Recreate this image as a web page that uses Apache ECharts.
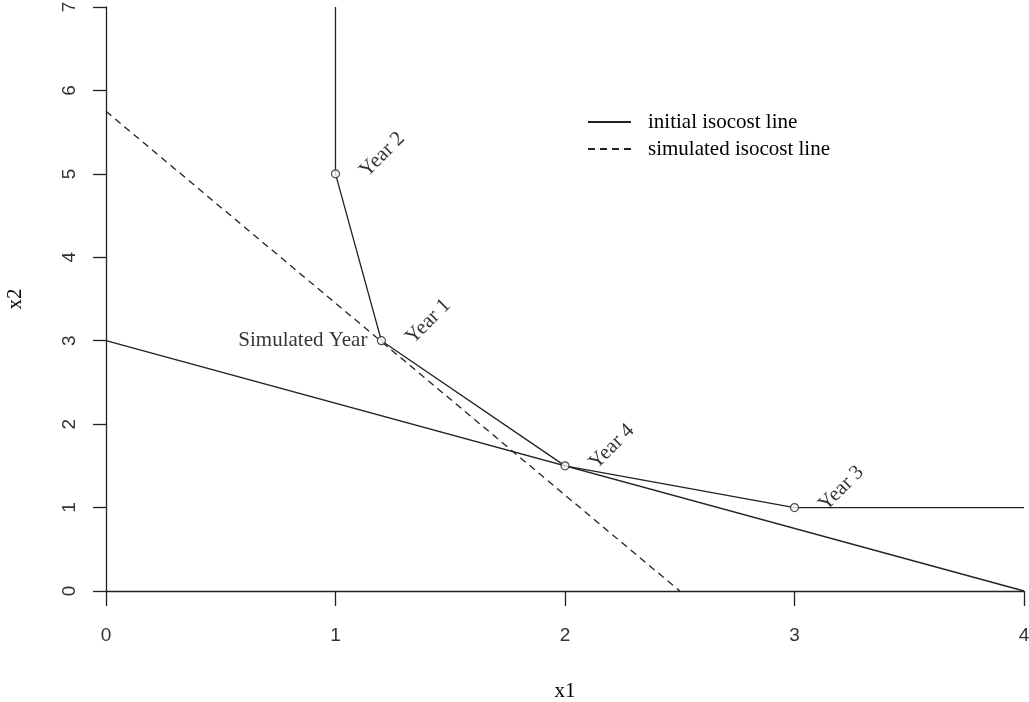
<!DOCTYPE html>
<html>
<head>
<meta charset="utf-8">
<script src="https://cdn.jsdelivr.net/npm/echarts@6/dist/echarts.min.js"></script>
<style>
html,body{margin:0;padding:0;background:#fff;}
#c{width:1029px;height:702px;}
</style>
</head>
<body>
<div id="c"></div>
<script>
// Isoquant (solid polyline through the yearly observations)
const isoquantX = [1, 1, 1.2, 2, 3, 4];
const isoquantY = [7, 5, 3, 1.5, 1, 1];
// Observed years
const yearX = [1, 1.2, 2, 3];
const yearY = [5, 3, 1.5, 1];
const yearLabels = ['Year 2', 'Year 1', 'Year 4', 'Year 3'];
// Simulated year
const simX = [1.2];
const simY = [3];
const simLabels = ['Simulated Year'];
// Isocost lines
const initialX = [0, 4];
const initialY = [3, 0];
const simulatedX = [0, 2.5];
const simulatedY = [5.75, 0];
const seriesNames = ['initial isocost line', 'simulated isocost line'];
// Axis ticks
const xTicks = [0, 1, 2, 3, 4];
const yTicks = [0, 1, 2, 3, 4, 5, 6, 7];

const zip = (a, b) => a.map((v, i) => [v, b[i]]);
const serif = 'Liberation Serif';
const sans = 'Liberation Sans';
const ink = '#000';

const chart = echarts.init(document.getElementById('c'), null, {renderer: 'canvas'});
chart.setOption({
  animation: false,
  backgroundColor: '#fff',
  grid: {left: 106, right: 5, top: 7, bottom: 111, containLabel: false, outerBoundsMode: 'none'},
  xAxis: {
    type: 'value', min: xTicks[0], max: xTicks[xTicks.length - 1], interval: 1,
    name: 'x1', nameLocation: 'middle', nameGap: 90,
    nameTextStyle: {fontFamily: serif, fontSize: 21, color: ink},
    axisLine: {onZero: false, lineStyle: {color: '#222', width: 1.3}},
    axisTick: {show: true, inside: false, length: 15, lineStyle: {color: '#222', width: 1.3}},
    axisLabel: {margin: 35, fontFamily: sans, fontSize: 19, color: '#333'},
    splitLine: {show: false}
  },
  yAxis: {
    type: 'value', min: yTicks[0], max: yTicks[yTicks.length - 1], interval: 1,
    name: 'x2', nameLocation: 'middle', nameGap: 80, nameRotate: 90,
    nameTextStyle: {fontFamily: serif, fontSize: 21, color: ink},
    axisLine: {show: true, onZero: false, lineStyle: {color: '#222', width: 1.3}},
    axisTick: {show: true, inside: false, length: 13, lineStyle: {color: '#222', width: 1.3}},
    axisLabel: {rotate: 90, margin: 27, fontFamily: sans, fontSize: 19, color: '#333'},
    splitLine: {show: false}
  },
  legend: {
    orient: 'vertical', left: 582, top: 106,
    itemWidth: 43, itemHeight: 14, itemGap: 5,
    data: seriesNames,
    itemStyle: {opacity: 0},
    textStyle: {fontFamily: serif, fontSize: 21, lineHeight: 22, color: ink, padding: [0, 0, 0, 12]}
  },
  series: [
    {
      name: 'isoquant', type: 'line', data: zip(isoquantX, isoquantY),
      symbol: 'none', lineStyle: {color: '#222', width: 1.3}, silent: true, z: 3
    },
    {
      name: seriesNames[0], type: 'line', data: zip(initialX, initialY),
      symbol: 'none', lineStyle: {color: '#222', width: 1.3, type: 'solid'},
      itemStyle: {color: '#222'}, z: 2
    },
    {
      name: seriesNames[1], type: 'line', data: zip(simulatedX, simulatedY),
      symbol: 'none', lineStyle: {color: '#222', width: 1.3, type: [7, 5]},
      itemStyle: {color: '#222'}, z: 2
    },
    {
      name: 'years', type: 'scatter', z: 5,
      data: zip(yearX, yearY).map((p, i) => ({value: p, name: yearLabels[i]})),
      symbol: 'circle', symbolSize: 8,
      itemStyle: {color: '#fff', borderColor: '#222', borderWidth: 1.2},
      label: {
        show: true, position: 'right', distance: 23, rotate: 45,
        formatter: p => p.name, align: 'left', verticalAlign: 'middle',
        fontFamily: serif, fontSize: 21, color: ink
      }
    },
    {
      name: 'simulated', type: 'scatter', z: 4,
      data: zip(simX, simY).map((p, i) => ({value: p, name: simLabels[i]})),
      symbol: 'circle', symbolSize: 8,
      itemStyle: {color: 'rgba(0,0,0,0)', borderWidth: 0},
      label: {
        show: true, position: 'left', distance: 10,
        formatter: p => p.name,
        fontFamily: serif, fontSize: 21, color: ink
      }
    }
  ]
});
</script>
</body>
</html>
